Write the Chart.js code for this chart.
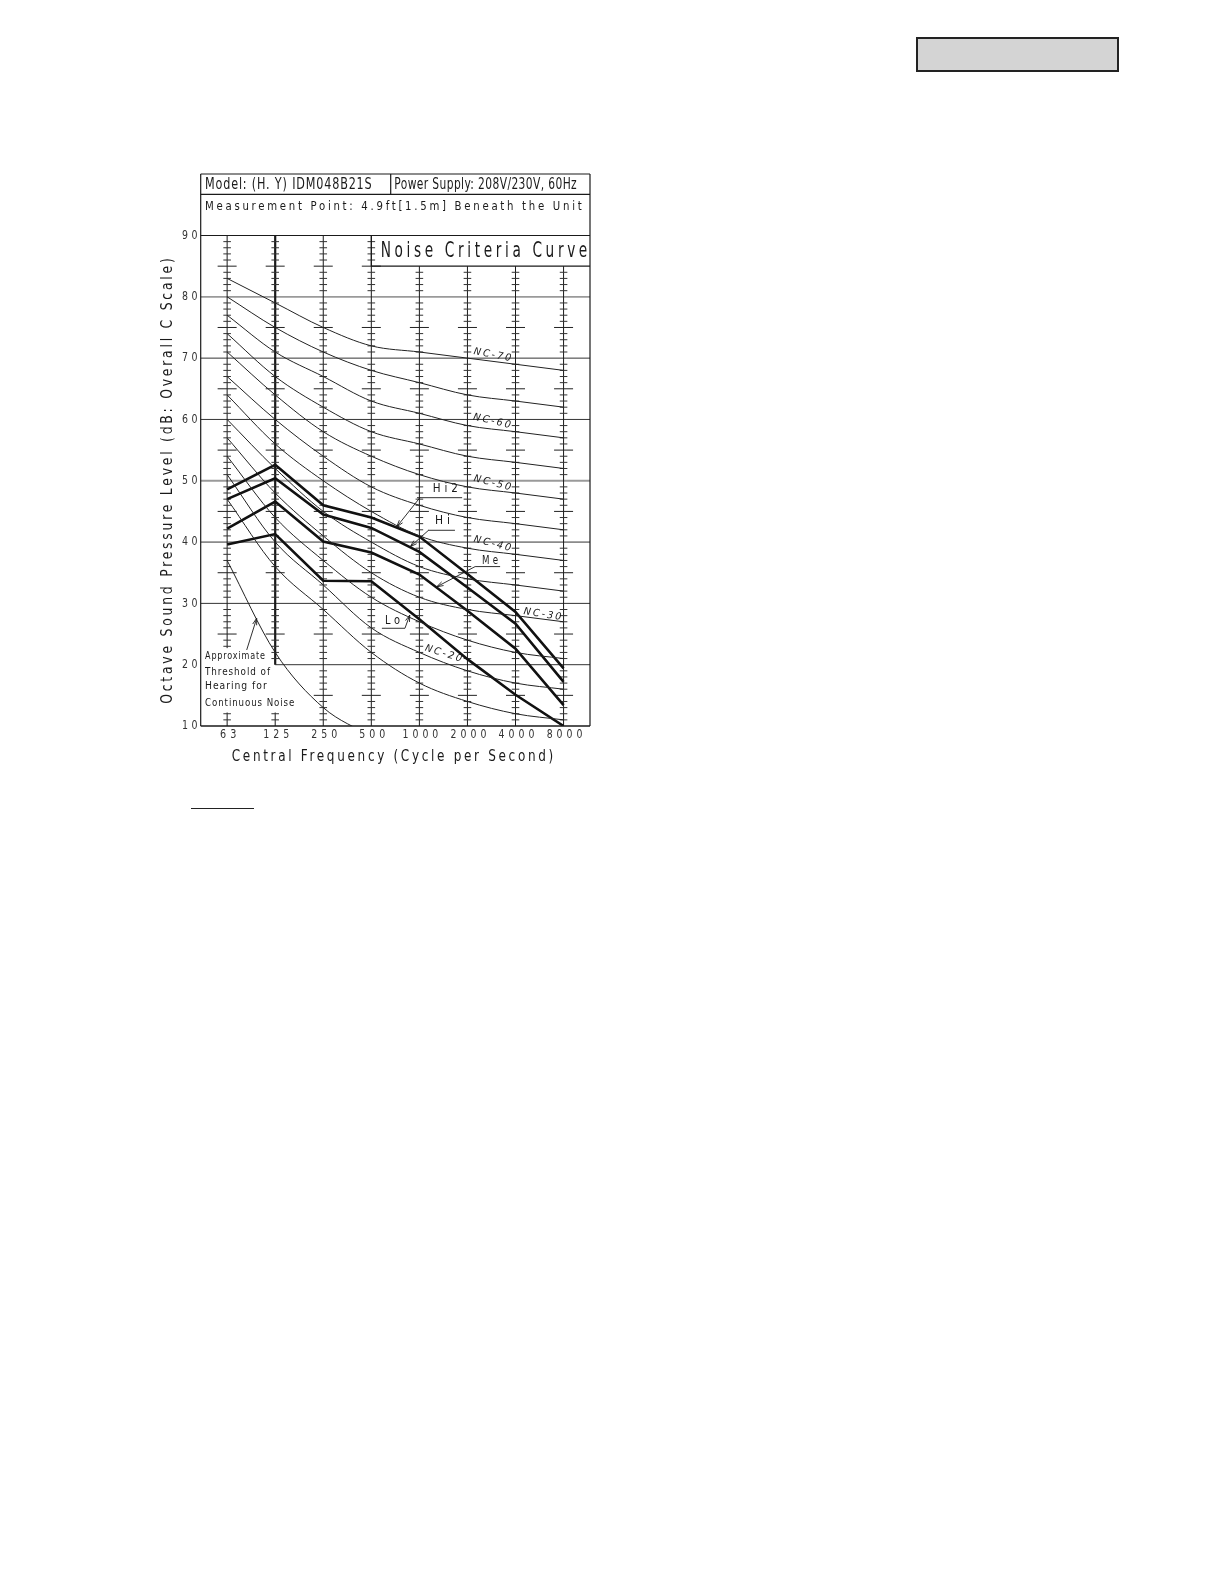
<!DOCTYPE html>
<html><head><meta charset="utf-8">
<script src="https://cdn.jsdelivr.net/npm/chart.js@4/dist/chart.umd.min.js"></script>
<style>
html,body{margin:0;padding:0;background:#fff;}
#wrap{position:relative;width:1224px;height:1584px;}
#c{position:absolute;left:0;top:0;}
.tag{position:absolute;left:916px;top:37px;width:199px;height:31px;background:#d4d4d4;border:2px solid #222;}
.ul{position:absolute;left:191px;top:807.5px;width:63px;height:0;border-top:1.6px solid #222;}
</style></head><body>
<div id="wrap"><canvas id="c" width="1224" height="1584"></canvas><div class="tag"></div><div class="ul"></div></div>
<script>
// ---------------- data ----------------
const frequencies = ['63', '125', '250', '500', '1000', '2000', '4000', '8000'];
const yTickValues = [10, 20, 30, 40, 50, 60, 70, 80, 90];

const nc15 = [47, 36, 29, 22, 17, 14, 12, 11];
const nc20 = [51, 40, 33, 26, 22, 19, 17, 16];
const nc25 = [54, 44, 37, 31, 27, 24, 22, 21];
const nc30 = [57, 48, 41, 35, 31, 29, 28, 27];
const nc35 = [60, 52, 45, 40, 36, 34, 33, 32];
const nc40 = [64, 56, 50, 45, 41, 39, 38, 37];
const nc45 = [67, 60, 54, 49, 46, 44, 43, 42];
const nc50 = [71, 64, 58, 54, 51, 49, 48, 47];
const nc55 = [74, 67, 62, 58, 56, 54, 53, 52];
const nc60 = [77, 71, 67, 63, 61, 59, 58, 57];
const nc65 = [80, 75, 71, 68, 66, 64, 63, 62];
const nc70 = [83, 79, 75, 72, 71, 70, 69, 68];
const thresholdOfHearing = [37, 22, 13, 8.3];

const hi2 = [48.6, 52.6, 46.0, 44.0, 40.9, 34.8, 28.6, 19.4];
const hi  = [47.0, 50.4, 44.5, 42.3, 38.4, 32.6, 26.7, 17.2];
const me  = [42.2, 46.6, 40.1, 38.3, 34.7, 28.8, 22.6, 13.4];
const lo  = [39.6, 41.3, 33.7, 33.6, 27.4, 20.9, 15.1, 10.0];

const ncCurves = [nc15, nc20, nc25, nc30, nc35, nc40, nc45, nc50, nc55, nc60, nc65, nc70];
const seriesNames = ['Hi2', 'Hi', 'Me', 'Lo'];
const seriesValues = [hi2, hi, me, lo];

// ---------------- annotation config (data coordinates) ----------------
const ncLabels = [
  {text: 'NC-70', x: 5.52, y: 70.5, rot: 11},
  {text: 'NC-60', x: 5.51, y: 59.7, rot: 13},
  {text: 'NC-50', x: 5.52, y: 49.6, rot: 14},
  {text: 'NC-40', x: 5.52, y: 39.7, rot: 14},
  {text: 'NC-30', x: 6.56, y: 28.2, rot: 9},
  {text: 'NC-20', x: 4.50, y: 21.8, rot: 17}
];
const seriesLabels = [
  {text: 'Hi2', x: 4.54, y: 48.7, w: 25, ul: [3.95, 4.89, 47.24], from: [4.01, 47.24], tip: [3.53, 42.5]},
  {text: 'Hi',  x: 4.48, y: 43.4, w: 15, ul: [4.18, 4.74, 41.92], from: [4.19, 41.92], tip: [3.81, 39.25]},
  {text: 'Me',  x: 5.47, y: 36.9, w: 16, ul: [5.16, 5.68, 36.0],  from: [5.16, 36.0],  tip: [4.36, 32.7]},
  {text: 'Lo',  x: 3.44, y: 27.1, w: 15, ul: [3.22, 3.70, 25.94], from: [3.70, 25.94], tip: [3.80, 28.1]}
];
const thresholdText = ['Approximate', 'Threshold of', 'Hearing for', 'Continuous Noise'];

const FONT = "'Liberation Sans Narrow','DejaVu Sans Condensed','Liberation Sans',sans-serif";
const INK = '#1a1a1a';

function txt(ctx, s, x, y, o) {
  ctx.save();
  ctx.font = (o.style || 'normal') + ' ' + (o.weight || 'normal') + ' ' + o.size + 'px ' + FONT;
  const sp = o.spacing || 0;
  ctx.letterSpacing = sp + 'px';
  const w = ctx.measureText(s).width - sp;
  ctx.translate(x, y);
  if (o.rot) ctx.rotate(o.rot * Math.PI / 180);
  const sx = o.width ? o.width / w : 1;
  ctx.scale(sx, 1);
  ctx.textBaseline = 'middle';
  ctx.fillStyle = o.color || INK;
  const ox = o.align === 'left' ? 0 : (o.align === 'right' ? -w : -w / 2);
  ctx.fillText(s, ox, 0);
  ctx.restore();
}
function seg(ctx, x1, y1, x2, y2, w, c) {
  ctx.beginPath();
  ctx.lineWidth = w; ctx.strokeStyle = c || INK;
  ctx.moveTo(x1, y1); ctx.lineTo(x2, y2); ctx.stroke();
}
function arrow(ctx, x1, y1, x2, y2) {
  seg(ctx, x1, y1, x2, y2, 0.9);
  const a = Math.atan2(y2 - y1, x2 - x1), L = 7, s = 0.3;
  seg(ctx, x2, y2, x2 - L * Math.cos(a - s), y2 - L * Math.sin(a - s), 0.9);
  seg(ctx, x2, y2, x2 - L * Math.cos(a + s), y2 - L * Math.sin(a + s), 0.9);
}

const paperPlugin = {
  id: 'paper',
  beforeDatasetsDraw(chart) {
    const ctx = chart.ctx, xs = chart.scales.x, ys = chart.scales.y;
    const X = v => xs.getPixelForValue(v), Y = v => ys.getPixelForValue(v);
    const L = chart.chartArea.left, R = chart.chartArea.right;
    ctx.save();
    // horizontal grid lines
    yTickValues.forEach(v => {
      if (v === 10 || v === 90) return;
      const x0 = v === 20 ? X(1) : L;
      const gray = (v === 80 || v === 50);
      seg(ctx, x0, Y(v), R, Y(v), gray ? 1.8 : 1, gray ? '#9a9a9a' : '#333');
    });
    // rulers at each frequency
    frequencies.forEach((f, k) => {
      const x = X(k);
      const top = k <= 3 ? 90 : 85;
      if (k === 0) {
        seg(ctx, x, Y(10), x, Y(12.2), 1);
        seg(ctx, x, Y(22.7), x, Y(top), 1);
      } else if (k === 1) {
        seg(ctx, x, Y(10), x, Y(12.2), 1);
        seg(ctx, x, Y(20), x, Y(top), 2.2);
      } else {
        seg(ctx, x, Y(10), x, Y(top), 1);
      }
      for (let v = 11; v < top; v++) {
        if (k === 0 && v >= 13 && v <= 22) continue;
        if (k === 1 && v >= 13 && v <= 19) continue;
        if (v % 10 === 0) continue;
        const hw = v % 5 === 0 ? 9.5 : 3.8;
        seg(ctx, x - hw, Y(v), x + hw, Y(v), 1, v % 5 === 0 ? '#222' : '#333');
      }
    });
    ctx.restore();
  },
  afterDatasetsDraw(chart) {
    const ctx = chart.ctx, xs = chart.scales.x, ys = chart.scales.y;
    const X = v => xs.getPixelForValue(v), Y = v => ys.getPixelForValue(v);
    const ca = chart.chartArea, L = ca.left, R = ca.right, T = ca.top, B = ca.bottom;
    ctx.save();
    // frame with header rows
    const headTop = 174, headMid = 194.3;
    seg(ctx, L, headTop, R, headTop, 1.2);
    seg(ctx, L, headTop, L, B, 1.2);
    seg(ctx, R, headTop, R, B, 1.2);
    seg(ctx, L, headMid, R, headMid, 1.2);
    seg(ctx, 390.7, headTop, 390.7, headMid, 1.2);
    seg(ctx, L, Y(90), R, Y(90), 1.2);
    seg(ctx, L, B, R, B, 1.6);
    // Noise Criteria Curve box
    seg(ctx, X(3), Y(90), X(3), Y(85), 1.2);
    seg(ctx, X(3), Y(85), R, Y(85), 1.2);
    // header texts
    txt(ctx, 'Model: (H. Y) IDM048B21S', 205, 185, {size: 15, align: 'left', width: 166.7, spacing: 1});
    txt(ctx, 'Power Supply: 208V/230V, 60Hz', 394.3, 185, {size: 15, align: 'left', width: 182.4, spacing: 0.5});
    txt(ctx, 'Measurement Point: 4.9ft[1.5m] Beneath the Unit', 205, 206.7, {size: 12.5, align: 'left', width: 376.7, spacing: 3});
    txt(ctx, 'Noise Criteria Curve', 380.7, 251.5, {size: 21, align: 'left', width: 206.6, spacing: 5});
    // y tick labels
    yTickValues.forEach(v => {
      txt(ctx, String(v), 197.5, Y(v), {size: 12, align: 'right', width: 15.5, spacing: 4, color: '#333'});
    });
    // x tick labels
    frequencies.forEach((f, k) => {
      txt(ctx, f, X(k) + 1, 735, {size: 13, width: 9.7 * f.length - 3, spacing: 5, color: '#333'});
    });
    // axis titles
    txt(ctx, 'Central Frequency (Cycle per Second)', 392.5, 756.7, {size: 15, width: 321.6, spacing: 3});
    txt(ctx, 'Octave Sound Pressure Level (dB: Overall C Scale)', 168, 481, {size: 15, width: 445.5, spacing: 3, rot: -90});
    // NC labels
    ncLabels.forEach(n => {
      txt(ctx, n.text, X(n.x), Y(n.y), {size: 10, style: 'italic', width: 38, spacing: 2, rot: n.rot});
    });
    // series labels with leaders
    seriesLabels.forEach(s => {
      txt(ctx, s.text, X(s.x), Y(s.y), {size: 12, width: s.w, spacing: 4});
      seg(ctx, X(s.ul[0]), Y(s.ul[2]), X(s.ul[1]), Y(s.ul[2]), 0.9);
      arrow(ctx, X(s.from[0]), Y(s.from[1]), X(s.tip[0]), Y(s.tip[1]));
    });
    // threshold label
    const tY = [21.3, 18.76, 16.41, 13.7], tW = [60, 65, 61.7, 89.3];
    thresholdText.forEach((t, i) => {
      txt(ctx, t, X(-0.46), Y(tY[i]), {size: 10.5, align: 'left', width: tW[i], spacing: 1});
    });
    arrow(ctx, X(0.407), Y(22.4), X(0.615), Y(27.57));
    ctx.restore();
  }
};

const datasets = [];
ncCurves.forEach((c, i) => {
  datasets.push({
    label: 'NC-' + (15 + 5 * i),
    data: c.map((v, k) => ({x: k, y: v})),
    borderColor: '#222', borderWidth: 1, pointRadius: 0,
    cubicInterpolationMode: 'monotone', fill: false
  });
});
datasets.push({
  label: 'Approximate Threshold of Hearing for Continuous Noise',
  data: thresholdOfHearing.map((v, k) => ({x: k, y: v})),
  borderColor: '#222', borderWidth: 1, pointRadius: 0,
  cubicInterpolationMode: 'monotone', fill: false
});
seriesValues.forEach((s, i) => {
  datasets.push({
    label: seriesNames[i],
    data: s.map((v, k) => ({x: k, y: v})),
    borderColor: '#111', borderWidth: 2.6, pointRadius: 0, tension: 0, fill: false
  });
});

new Chart(document.getElementById('c'), {
  type: 'line',
  data: {datasets},
  options: {
    responsive: false, animation: false, devicePixelRatio: 1,
    layout: {padding: {left: 200.7, top: 235.5, right: 634, bottom: 858}},
    plugins: {legend: {display: false}, tooltip: {enabled: false}, title: {display: false}},
    scales: {
      x: {type: 'linear', min: -0.55, max: 7.55, display: false},
      y: {type: 'linear', min: 10, max: 90, display: false}
    }
  },
  plugins: [paperPlugin]
});
</script>
</body></html>
